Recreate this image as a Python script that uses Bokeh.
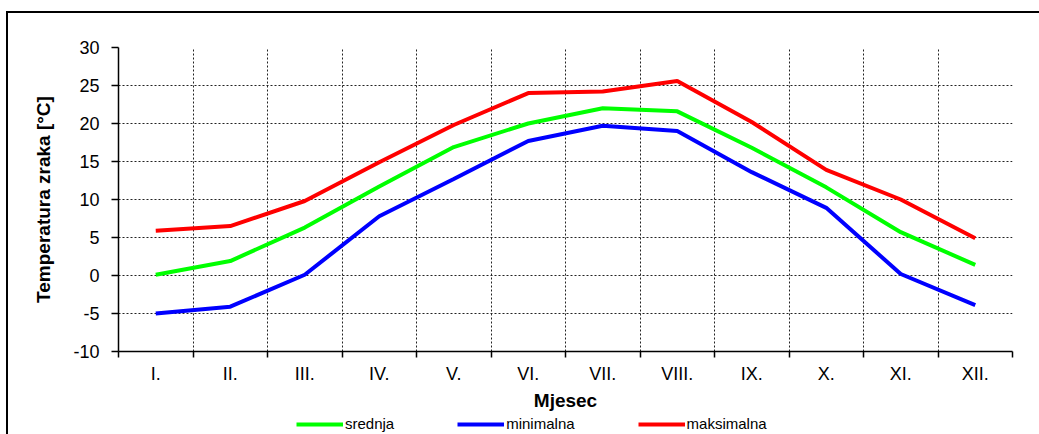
from bokeh.plotting import figure
from bokeh.layouts import column
from bokeh.models import Range1d, FixedTicker, Legend, LegendItem
from bokeh.embed import file_html
from bokeh.resources import INLINE

months = ["I.", "II.", "III.", "IV.", "V.", "VI.", "VII.", "VIII.", "IX.", "X.", "XI.", "XII."]
srednja = [0.1, 1.9, 6.3, 11.7, 16.9, 20.0, 22.0, 21.6, 16.8, 11.6, 5.7, 1.4]
minimalna = [-5.0, -4.1, 0.1, 7.8, 12.7, 17.7, 19.7, 19.0, 13.6, 8.9, 0.2, -3.9]
maksimalna = [5.9, 6.5, 9.8, 14.9, 19.8, 24.0, 24.2, 25.6, 20.2, 13.9, 10.0, 4.9]
series_names = ["srednja", "minimalna", "maksimalna"]
series_colors = ["#00FF00", "#0000FF", "#FF0000"]
y_ticks = [-10, -5, 0, 5, 10, 15, 20, 25, 30]
y_tick_labels = ["-10", "-5", "0", "5", "10", "15", "20", "25", "30"]

x = [i + 0.5 for i in range(len(months))]
bounds = list(range(len(months) + 1))

FONT = "Liberation Sans"

p = figure(width=1031, height=400, output_backend="svg", toolbar_location=None,
           x_range=Range1d(0, len(months)), y_range=Range1d(-10, 30),
           min_border_left=110, min_border_right=27, min_border_top=34,
           min_border_bottom=60)
p.outline_line_color = None
p.background_fill_color = "white"
p.border_fill_color = "white"

# x axis
p.xaxis.ticker = FixedTicker(ticks=x, minor_ticks=bounds)
p.xaxis.major_label_overrides = {v: m for v, m in zip(x, months)}
p.xaxis.major_tick_out = 0
p.xaxis.major_tick_in = 0
p.xaxis.minor_tick_out = 6
p.xaxis.minor_tick_in = 0
p.xaxis.minor_tick_line_color = "black"
p.xaxis.minor_tick_line_width = 1.5
p.xaxis.axis_line_color = "black"
p.xaxis.axis_line_width = 1.5
p.xaxis.major_label_text_font = FONT
p.xaxis.major_label_text_font_size = "18px"
p.xaxis.major_label_text_color = "black"
p.xaxis.major_label_standoff = 6
p.xaxis.axis_label = "Mjesec"
p.xaxis.axis_label_text_font = FONT
p.xaxis.axis_label_text_font_style = "bold"
p.xaxis.axis_label_text_font_size = "19px"
p.xaxis.axis_label_text_color = "black"
p.xaxis.axis_label_standoff = 3

# y axis
p.yaxis.ticker = FixedTicker(ticks=y_ticks)
p.yaxis.major_label_overrides = {v: s for v, s in zip(y_ticks, y_tick_labels)}
p.yaxis.major_tick_out = 7
p.yaxis.major_tick_in = 0
p.yaxis.minor_tick_out = 0
p.yaxis.minor_tick_in = 0
p.yaxis.major_tick_line_color = "black"
p.yaxis.major_tick_line_width = 1.5
p.yaxis.axis_line_color = "black"
p.yaxis.axis_line_width = 1.5
p.yaxis.major_label_text_font = FONT
p.yaxis.major_label_text_font_size = "18px"
p.yaxis.major_label_text_color = "black"
p.yaxis.major_label_standoff = 12
p.yaxis.axis_label = "Temperatura zraka [°C]"
p.yaxis.axis_label_text_font = FONT
p.yaxis.axis_label_text_font_style = "bold"
p.yaxis.axis_label_text_font_size = "19px"
p.yaxis.axis_label_text_color = "black"
p.yaxis.axis_label_standoff = 16

# grids
p.xgrid.ticker = FixedTicker(ticks=bounds)
p.ygrid.ticker = FixedTicker(ticks=y_ticks)
for g in (p.xgrid, p.ygrid):
    g.grid_line_color = "#222222"
    g.grid_line_dash = "2 2"
    g.grid_line_width = 1
    g.grid_line_alpha = 1.0

for vals, c in zip([srednja, minimalna, maksimalna], series_colors):
    p.line(x, vals, line_color=c, line_width=4)

# legend strip below the chart (lines drawn out of view, only the legend shows)
q = figure(width=1031, height=21, output_backend="svg", toolbar_location=None,
           x_range=Range1d(0, len(months)), y_range=Range1d(1000, 1001),
           min_border=0, min_border_left=0, min_border_right=0,
           min_border_top=0, min_border_bottom=0)
q.axis.visible = False
q.grid.visible = False
q.outline_line_color = None
q.border_fill_color = "white"
q.background_fill_color = "white"
items = []
for vals, c, name in zip([srednja, minimalna, maksimalna], series_colors, series_names):
    r = q.line(x, vals, line_color=c, line_width=4)
    items.append(LegendItem(label=name, renderers=[r]))
legend = Legend(items=items, orientation="horizontal", location=(178, 2),
                glyph_width=47, glyph_height=14, label_standoff=2, spacing=63,
                padding=0, margin=0, border_line_color=None,
                label_text_font=FONT, label_text_font_size="15px",
                label_height=14, label_text_color="black",
                background_fill_alpha=0)
q.add_layout(legend, "center")

layout = column(p, q, spacing=0)
layout.styles = {"margin-left": "6px", "margin-top": "11px",
                 "border-left": "2px solid black", "border-top": "2px solid black"}

open("out.html", "w").write(file_html(layout, INLINE))
